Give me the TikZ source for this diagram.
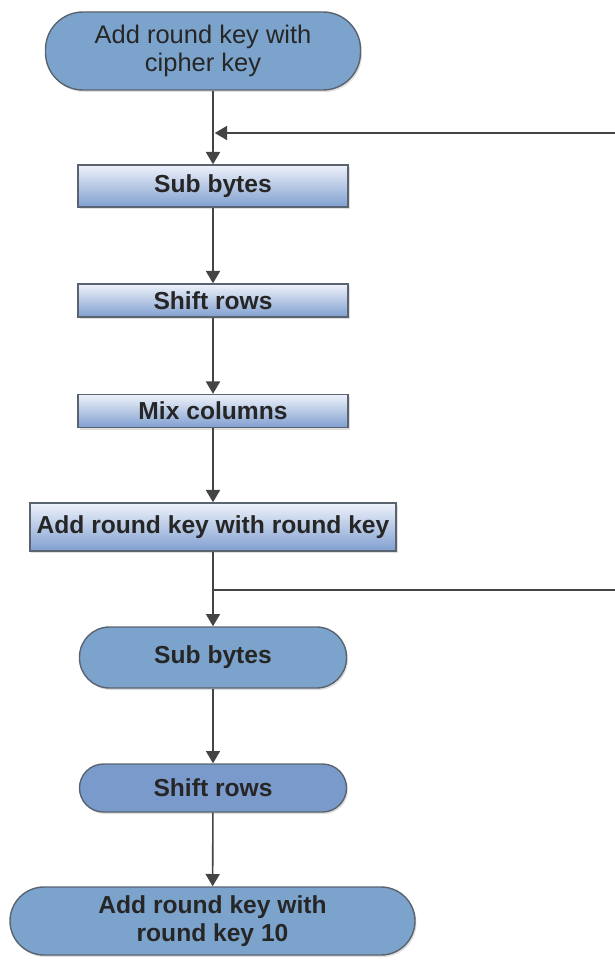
\documentclass[tikz,border=0pt]{standalone}
\usepackage{fontspec}
\setmainfont{Liberation Sans}
\usetikzlibrary{arrows.meta,shadows}
\definecolor{pillblue}{HTML}{7BA3CC}
\definecolor{pilldeep}{HTML}{7B9ACC}
\definecolor{boxtop}{HTML}{EEF2FA}
\definecolor{boxbot}{HTML}{809FD0}
\definecolor{edgegray}{HTML}{5A6470}
\definecolor{linegray}{HTML}{444444}
\tikzset{
  pill/.style={draw=edgegray,fill=pillblue,rounded corners=0.6cm,thick,
    minimum height=1.2cm,align=center,font=\fontsize{14}{16}\selectfont\bfseries,
    text=black!85,drop shadow={opacity=0.25,shadow xshift=0.3mm,shadow yshift=-0.4mm}},
  stepbox/.style={draw=edgegray,top color=boxtop,bottom color=boxbot,thick,
    minimum width=5.4cm,minimum height=0.66cm,font=\fontsize{14}{16}\selectfont\bfseries,
    text=black!85,drop shadow={opacity=0.25,shadow xshift=0.3mm,shadow yshift=-0.4mm}},
  flow/.style={linegray,line width=0.9pt,-{Triangle[width=8pt,length=7pt]}}
}
\begin{document}
\begin{tikzpicture}
\useasboundingbox (0,0) rectangle (12.3,-19.2);

% Erste Runde
\node[pill,minimum width=6.3cm,minimum height=1.56cm,rounded corners=0.75cm,
  font=\fontsize{14.5}{16}\selectfont] (start) at (4.06,-1.02) {Add round key with\\cipher key};
\node[stepbox,minimum height=0.84cm] (sub1) at (4.26,-3.72) {Sub bytes};
\node[stepbox] (shift1) at (4.26,-6.01) {Shift rows};
\node[stepbox] (mix) at (4.26,-8.22) {Mix columns};
\node[stepbox,minimum width=7.32cm,minimum height=0.96cm] (addkey) at (4.26,-10.54) {Add round key with round key};

% Letzte Runde
\node[pill,minimum width=5.34cm,minimum height=1.22cm] (sub2) at (4.26,-13.15) {Sub bytes};
\node[pill,fill=pilldeep,minimum width=5.34cm,minimum height=0.96cm,rounded corners=0.48cm] (shift2) at (4.26,-15.76) {Shift rows};
\node[pill,minimum width=8.1cm,minimum height=1.36cm,rounded corners=0.68cm] (final) at (4.25,-18.42) {Add round key with\\round key 10};

% Schleife
\coordinate (loopin) at (12.3,-2.66);
\coordinate (join) at (4.26,-2.66);
\coordinate (split) at (4.26,-11.8);
\coordinate (loopout) at (12.3,-11.8);

\draw[linegray,line width=0.9pt] (start.south -| join) -- (join);
\draw[flow] (join) -- (sub1.north);
\draw[flow,shorten >=1pt] (loopin) -- (join);
\draw[flow] (sub1) -- (shift1);
\draw[flow] (shift1) -- (mix);
\draw[flow] (mix) -- (addkey);
\draw[flow] (addkey) -- (sub2);
\draw[linegray,line width=0.9pt] (split) -- (loopout);
\draw[flow] (sub2) -- (shift2);
\draw[flow] (shift2) -- (final);

\end{tikzpicture}
\end{document}
